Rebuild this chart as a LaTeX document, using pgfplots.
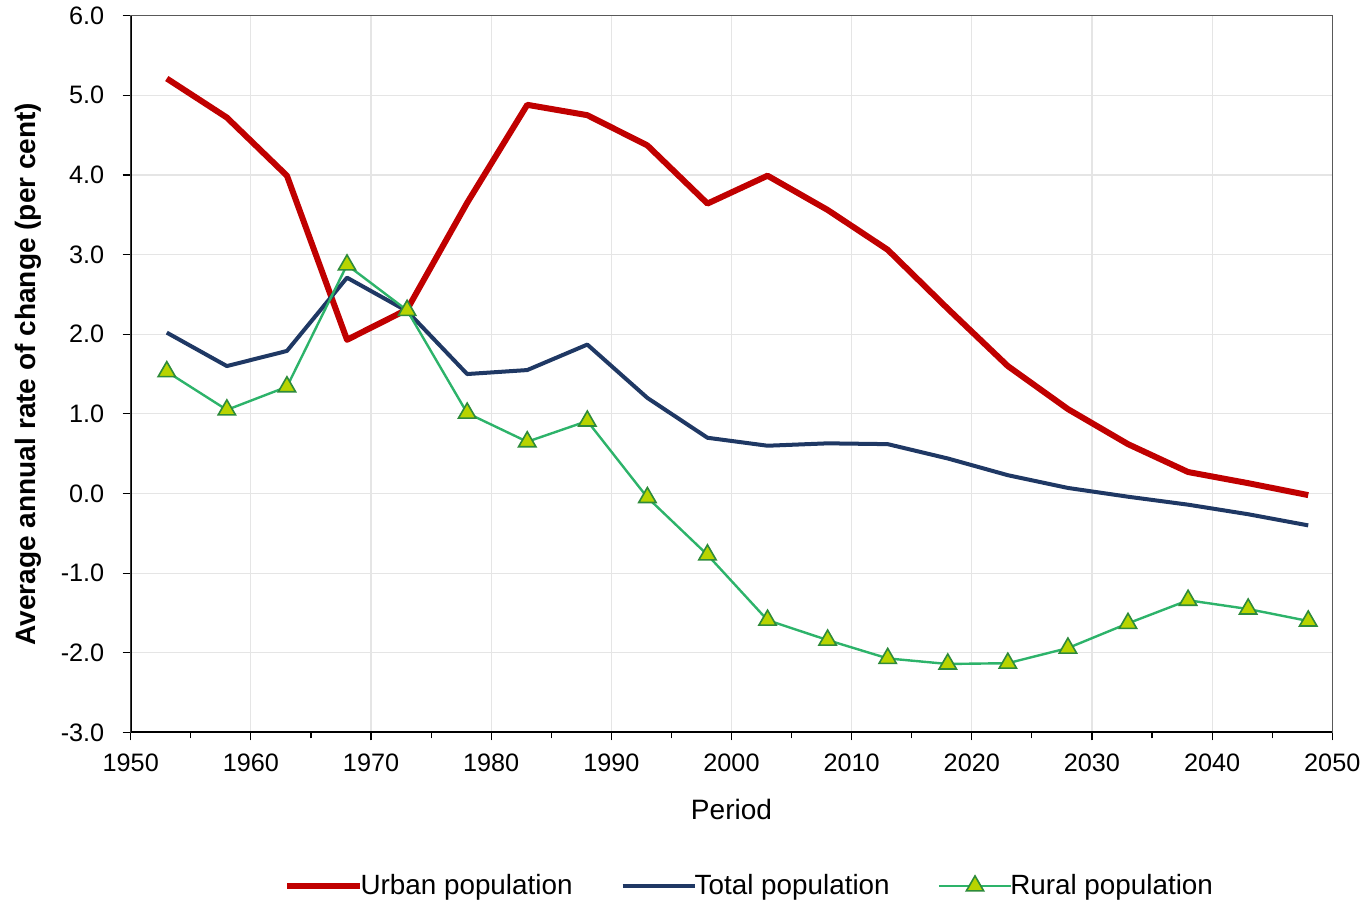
\documentclass[border=0pt]{standalone}
\usepackage{fontspec}
\setmainfont{Liberation Sans}
\usepackage{pgfplots}
\pgfplotsset{compat=1.18}

\definecolor{urbanred}{HTML}{C00000}
\definecolor{totalnavy}{HTML}{1F3864}
\definecolor{ruralgreen}{HTML}{2DB36A}
\definecolor{ruralfill}{HTML}{B8D400}
\definecolor{ruraledge}{HTML}{2E8B3A}

\begin{document}
\begin{tikzpicture}
\begin{axis}[
    scale only axis,
    width=600pt, height=358pt,
    xmin=1950, xmax=2050,
    ymin=-3, ymax=6,
    xtick={1950,1960,...,2050},
    minor x tick num=1,
    ytick={-3,-2,...,6},
    tick align=outside,
    xtick pos=bottom, ytick pos=left,
    major tick length=4pt, minor tick length=3pt,
    tick style={black, line width=0.6pt},
    grid=major,
    grid style={gray!20, line width=0.6pt},
    axis line style={gray!70!black, line width=0.6pt},
    /pgf/number format/assume math mode=true,
    x tick label style={/pgf/number format/1000 sep={}},
    y tick label style={/pgf/number format/fixed, /pgf/number format/fixed zerofill,
        /pgf/number format/precision=1},
    ticklabel style={font=\fontsize{12.6}{14}\selectfont},
    xticklabel style={yshift=-3pt},
    yticklabel style={xshift=-5.7pt},
    xlabel={Period},
    ylabel={\bfseries Average annual rate of change (per cent)},
    label style={font=\fontsize{14}{16}\selectfont},
    xlabel style={yshift=-7pt},
    ylabel style={yshift=-1.5pt, inner ysep=7.6pt},
    legend columns=3,
    legend style={at={(axis description cs:0.516,-0.214)}, anchor=center,
        draw=none, font=\fontsize{13.9}{16}\selectfont,
        /tikz/every odd column/.append style={column sep=-3pt},
        /tikz/every even column/.append style={column sep=22pt}},
    legend cell align=left,
    legend image code/.code={
        \draw[#1] (0cm,0cm) -- (36pt,0cm);
        \draw[#1, only marks] plot coordinates {(18pt,0cm)};
    },
]

\addplot[urbanred, line width=3pt, line join=round] coordinates {
    (1953,5.21) (1958,4.72) (1963,3.99) (1968,1.93) (1973,2.31)
    (1978,3.65) (1983,4.88) (1988,4.75) (1993,4.37) (1998,3.64)
    (2003,3.99) (2008,3.56) (2013,3.06) (2018,2.32) (2023,1.60)
    (2028,1.06) (2033,0.62) (2038,0.27) (2043,0.13) (2048,-0.02)
};

\addplot[totalnavy, line width=2pt, line join=round] coordinates {
    (1953,2.02) (1958,1.60) (1963,1.79) (1968,2.71) (1973,2.29)
    (1978,1.50) (1983,1.55) (1988,1.87) (1993,1.20) (1998,0.70)
    (2003,0.60) (2008,0.63) (2013,0.62) (2018,0.44) (2023,0.23)
    (2028,0.07) (2033,-0.04) (2038,-0.14) (2043,-0.26) (2048,-0.40)
};

\addplot[ruralgreen, line width=1.2pt, mark=triangle*,
    mark size=5pt,
    mark options={fill=ruralfill, draw=ruraledge, line width=0.8pt}] coordinates {
    (1953,1.53) (1958,1.05) (1963,1.34) (1968,2.87) (1973,2.30)
    (1978,1.01) (1983,0.65) (1988,0.91) (1993,-0.05) (1998,-0.77)
    (2003,-1.59) (2008,-1.84) (2013,-2.07) (2018,-2.14) (2023,-2.13)
    (2028,-1.94) (2033,-1.63) (2038,-1.34) (2043,-1.45) (2048,-1.60)
};

\draw[black, line width=1.2pt] (rel axis cs:0,1) -- (rel axis cs:0,0) -- (rel axis cs:1,0);
\path (rel axis cs:0,1) ++(0,9pt);

\legend{Urban population, Total population, Rural population}
\end{axis}
\end{tikzpicture}
\end{document}
